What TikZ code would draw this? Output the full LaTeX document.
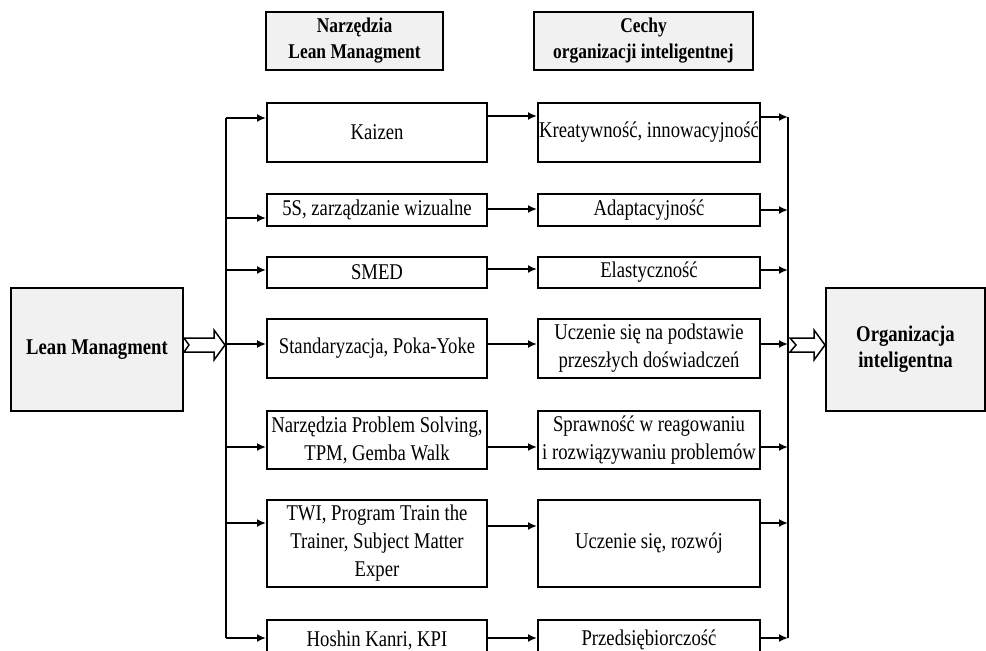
\documentclass[tikz,border=0pt]{standalone}
\usepackage{fontspec}
\setmainfont{Liberation Serif}[FakeStretch=0.83]
\usetikzlibrary{arrows.meta,calc}
\definecolor{headgray}{HTML}{F1F1F1}

\begin{document}
\begin{tikzpicture}[
    x=1pt,y=-1pt,
    line width=1.8pt,
    >={Latex[length=9pt,width=8pt]},
    every node/.style={font=\fontsize{22.5}{28}\selectfont},
    box/.style={draw, line width=2pt, align=center, inner sep=0pt},
    head/.style={box, fill=headgray, font=\bfseries\fontsize{21}{26}\selectfont},
    tool/.style={box, minimum width=220pt},
    trait/.style={box, minimum width=222pt},
    hollow/.style={draw, fill=white, line width=1.5pt, line join=miter}
]
\clip (0,0) rectangle (986,651);

% Headers
\node[head, minimum width=177pt, minimum height=58pt] (hTools)  at (354.5,41) {Narzędzia\\Lean Managment};
\node[head, minimum width=219pt, minimum height=58pt] (hTraits) at (643.5,41) {Cechy\\organizacji inteligentnej};

% Source and target
\node[head, minimum width=172pt, minimum height=123pt, font=\bfseries\fontsize{22.5}{26}\selectfont] (lean) at (97,349.5) {Lean Managment};
\node[head, minimum width=159pt, minimum height=123pt, font=\bfseries\fontsize{22.5}{26}\selectfont] (org) at (905.5,349.5) {Organizacja\\inteligentna};

% Tools
\node[tool, minimum height=59pt] (Lkai)  at (377,132.5) {Kaizen};
\node[tool, minimum height=32pt] (L5s)   at (377,210)   {5S, zarządzanie wizualne};
\node[tool, minimum height=31pt] (Lsmed) at (377,272.5) {SMED};
\node[tool, minimum height=59pt] (Lstd)  at (377,348.5) {Standaryzacja, Poka-Yoke};
\node[tool, minimum height=58pt] (Lps)   at (377,440)   {Narzędzia Problem Solving,\\TPM, Gemba Walk};
\node[tool, minimum height=87pt] (Ltwi)  at (377,543.5) {TWI, Program Train the\\Trainer, Subject Matter\\Exper};
\node[tool, minimum height=40pt] (Lhk)   at (377,640)   {Hoshin Kanri, KPI};

% Traits
\node[trait, minimum height=59pt] (Rkai)  at (649,132.5) {Kreatywność, innowacyjność};
\node[trait, minimum height=32pt] (R5s)   at (649,210)   {Adaptacyjność};
\node[trait, minimum height=31pt] (Rsmed) at (649,272.5) {Elastyczność};
\node[trait, minimum height=59pt] (Rstd)  at (649,348.5) {Uczenie się na podstawie\\przeszłych doświadczeń};
\node[trait, minimum height=58pt] (Rps)   at (649,440)   {Sprawność w reagowaniu\\i rozwiązywaniu problemów};
\node[trait, minimum height=87pt] (Rtwi)  at (649,543.5) {Uczenie się, rozwój};
\node[trait, minimum height=40pt] (Rhk)   at (649,640)   {Przedsiębiorczość};

% Buses
\coordinate (busL) at (226,118);
\coordinate (busLend) at (226,638);
\coordinate (busR) at (788,117);
\coordinate (busRend) at (788,638);
\draw (busL) -- (busLend);
\draw (busR) -- (busRend);

% Arrows
\foreach \n/\a/\b/\c in {kai/-14.5/-16.5/-15.5, 5s/8/-1/0, smed/-2.5/-3.5/-2.5,
                          std/-4.5/-4.5/-4.5, ps/7/7/7, twi/-20.5/-17.5/-20.5, hk/-2/-2/-2}{
  \path ($(L\n.west)+(0,\a)$) coordinate (pin)
        ($(L\n.east)+(0,\b)$) coordinate (pmid)
        ($(R\n.east)+(0,\c)$) coordinate (pout);
  \draw[->] (pin -| busL) -- (pin);
  \draw[->] (pmid) -- (pmid -| R\n.west);
  \draw[->] (pout) -- (pout -| busR);
}

% Hollow arrows
\coordinate (hl) at ($(lean.east)+(0,-4.5)$);
\coordinate (hr) at ($(org.west)+(0,-4.5)$);
\draw[hollow] (hl) ++(0,-7) -- ++(30,0) -- ++(0,-8) -- ++(11,15) -- ++(-11,15)
    -- ++(0,-8) -- ++(-30,0) -- ++(5,-7) -- cycle;
\draw[hollow] (hr) ++(-35,-7) -- ++(24,0) -- ++(0,-8) -- ++(11,15) -- ++(-11,15)
    -- ++(0,-8) -- ++(-24,0) -- ++(6,-7) -- cycle;

\end{tikzpicture}
\end{document}
